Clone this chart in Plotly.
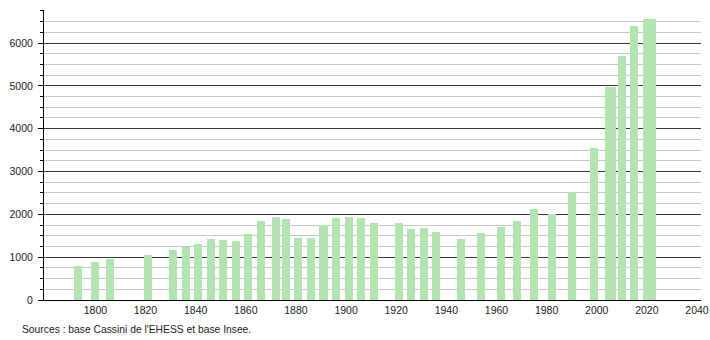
import plotly.graph_objects as go

years = [1793, 1800, 1806, 1821, 1831, 1836, 1841, 1846, 1851, 1856, 1861, 1866,
         1872, 1876, 1881, 1886, 1891, 1896, 1901, 1906, 1911, 1921, 1926, 1931,
         1936, 1946, 1954, 1962, 1968, 1975, 1982, 1990, 1999, 2005, 2006, 2010,
         2015, 2020, 2022]
population = [785, 894, 948, 1058, 1158, 1244, 1314, 1415, 1392, 1368, 1532, 1835,
              1945, 1882, 1438, 1455, 1758, 1905, 1945, 1922, 1805, 1805, 1665, 1688,
              1595, 1431, 1571, 1711, 1851, 2132, 2015, 2529, 3556, 4973, 4973, 5704,
              6404, 6568, 6568]
x_ticks = [1800, 1820, 1840, 1860, 1880, 1900, 1920, 1940, 1960, 1980, 2000, 2020, 2040]
y_ticks = [0, 1000, 2000, 3000, 4000, 5000, 6000]
source_text = "Sources : base Cassini de l'EHESS et base Insee."

fig = go.Figure()
fig.add_trace(go.Bar(
    x=years, y=population, width=3.2,
    marker=dict(color="#b1e4b1", line=dict(width=0)),
    hoverinfo="x+y",
))

font = "Liberation Sans, Arial, sans-serif"
fig.update_layout(
    width=710, height=340,
    margin=dict(l=44, r=9, t=10, b=40),
    plot_bgcolor="white", paper_bgcolor="white",
    showlegend=False,
    font=dict(family=font, size=10.5, color="#222"),
    bargap=0,
    xaxis=dict(
        range=[1779.5, 2041.6], automargin=False,
        tickvals=x_ticks, ticktext=[str(v) for v in x_ticks],
        showgrid=False, zeroline=False,
        showline=True, linecolor="black", linewidth=1,
        ticks="", ticklen=0,
        tickfont=dict(family=font, size=10.5, color="#222"),
    ),
    yaxis=dict(
        range=[0, 6771], automargin=False,
        tickvals=y_ticks, ticktext=[str(v) for v in y_ticks],
        showgrid=True, gridcolor="#383838", gridwidth=1,
        zeroline=False,
        showline=True, linecolor="black", linewidth=1,
        ticks="outside", ticklen=5, tickcolor="black", tickwidth=1,
        ticklabelstandoff=3,
        tickfont=dict(family=font, size=10.5, color="#222"),
        minor=dict(dtick=250, tick0=0, showgrid=True, gridcolor="#c8c8c8",
                   gridwidth=1, ticks="outside", ticklen=3, tickcolor="black"),
    ),
    annotations=[dict(
        text=source_text, xref="paper", yref="paper",
        x=-24 / 657, y=0.0, xanchor="left", yanchor="middle",
        yshift=-29, showarrow=False,
        font=dict(family=font, size=10.3, color="#222"),
    )],
)

fig.write_html("out.html")
